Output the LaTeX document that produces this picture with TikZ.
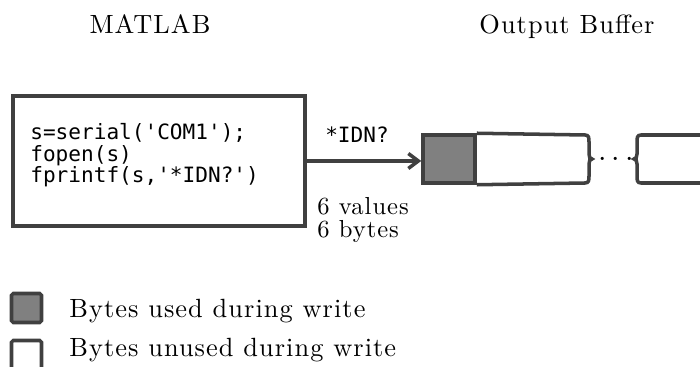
\documentclass[tikz,border=0pt]{standalone}
\usepackage{fontspec}
\setmainfont{lmroman10-regular.otf}[LetterSpace=4]
\setmonofont{DejaVu Sans Mono}
\usetikzlibrary{arrows.meta,positioning}
\definecolor{bufgray}{RGB}{128,128,128}
\definecolor{edgegray}{RGB}{64,64,64}

\begin{document}
\begin{tikzpicture}[
    title/.style={anchor=base, font=\fontsize{15}{18}\selectfont},
    code/.style={anchor=base west, inner sep=0pt,
                 font=\fontsize{12}{14}\selectfont\ttfamily},
    note/.style={anchor=base west, inner sep=0pt,
                 font=\fontsize{15}{18}\selectfont},
    cell/.style={rectangle, draw=edgegray, line width=2pt,
                 minimum width=1.04cm, minimum height=0.96cm},
    key/.style={rectangle, rounded corners=1pt, draw=edgegray, line width=2pt,
                minimum width=0.6cm, minimum height=0.58cm},
    wire/.style={edgegray, line width=2pt}
  ]
    \useasboundingbox (0,0) rectangle (14,-7.34);
    \clip (0,0) rectangle (14,-7.34);

    % Headings
    \node[title] (matlab) at (3.0,  -0.68) {MATLAB};
    \node[title] (buffer) at (11.34,-0.68) {Output Buffer};

    % MATLAB side
    \node[rectangle, draw=edgegray, line width=2pt, minimum width=5.84cm,
          minimum height=2.6cm] (cmd) at (3.18,-3.22) {};
    \node[code] (line1) at (0.6,-2.8)  {s=serial('COM1');};
    \node[code] (line2) at (0.6,-3.24) {fopen(s)};
    \node[code] (line3) at (0.6,-3.66) {fprintf(s,'*IDN?')};

    % Output buffer
    \node[cell, fill=bufgray] (used) at (8.98,-3.18) {};
    \draw[wire] (used.north east) -- (11.7,-2.7)
      .. controls (11.78,-2.7) and (11.78,-2.76) .. (11.78,-2.84) -- (11.78,-3.08)
      .. controls (11.78,-3.14) and (11.8,-3.18) .. (11.84,-3.18)
      .. controls (11.8,-3.18) and (11.78,-3.22) .. (11.78,-3.28) -- (11.78,-3.52)
      .. controls (11.78,-3.6) and (11.78,-3.66) .. (11.7,-3.66) -- (used.south east);
    \node[anchor=base, font=\fontsize{16}{18}\selectfont] (gap) at (12.32,-3.34) {$\cdots$};
    \draw[wire] (14.2,-2.7) -- (12.82,-2.7)
      .. controls (12.74,-2.7) and (12.74,-2.76) .. (12.74,-2.84) -- (12.74,-3.08)
      .. controls (12.74,-3.14) and (12.72,-3.18) .. (12.68,-3.18)
      .. controls (12.72,-3.18) and (12.74,-3.22) .. (12.74,-3.28) -- (12.74,-3.52)
      .. controls (12.74,-3.6) and (12.74,-3.66) .. (12.82,-3.66) -- (14.2,-3.66);

    % Write arrow
    \draw[wire, -{Straight Barb[length=0.2cm,width=0.3cm]}]
      (cmd.east) -- (cmd.east -| used.west);
    \node[code, anchor=base] (cmdlabel) at (7.14,-2.86) {*IDN?};
    \node[note, font=\fontsize{14}{16}\selectfont] (count) at (6.34,-4.3)  {6 values};
    \node[note, font=\fontsize{14}{16}\selectfont] (size)  at (6.34,-4.76) {6 bytes};

    % Legend
    \node[key, fill=bufgray] (keyused) at (0.53,-6.16) {};
    \node[note] (textused) at (1.38,-6.36) {Bytes used during write};
    \node[key] (keyunused) at (0.53,-7.1) {};
    \node[note] (textunused) at (1.38,-7.14) {Bytes unused during write};
  \end{tikzpicture}
\end{document}
